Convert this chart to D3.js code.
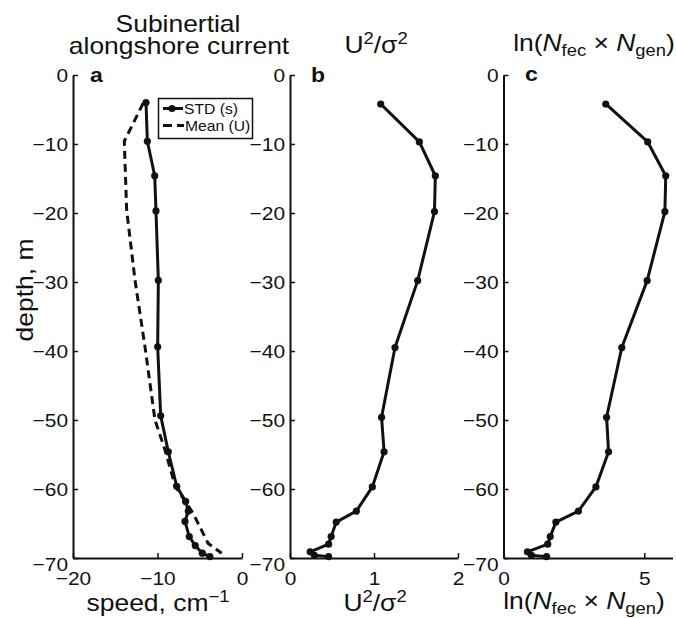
<!DOCTYPE html>
<html><head><meta charset="utf-8">
<script src="https://cdn.jsdelivr.net/npm/d3@7"></script>
<style>
body{margin:0;background:#fff}
svg{display:block}
text{font-family:"Liberation Sans",Arial,Helvetica,sans-serif;fill:#111}
</style>
</head><body>
<svg id="chart" width="676" height="618"></svg>
<script>
// ---- data ----
const depthSTD = [-4.0, -9.6, -14.6, -19.7, -29.75, -39.4, -49.4, -54.6, -59.6, -61.8, -63.2, -64.7, -66.9, -68.2, -69.3, -69.8];
const stdS     = [-11.36, -11.2, -10.33, -10.18, -9.9, -9.98, -9.62, -8.72, -7.73, -6.67, -6.36, -6.75, -6.24, -5.53, -4.7, -3.8];
const depthMean = [-4.1, -9.6, -19.6, -29.75, -39.4, -50.0, -54.0, -59.6, -62.0, -63.5, -67.9, -69.3];
const meanU     = [-11.7, -13.93, -13.65, -12.66, -11.48, -10.3, -9.2, -7.9, -6.6, -5.8, -4.0, -2.4];
const depthBC = [-4.2, -9.7, -14.6, -19.8, -29.8, -39.5, -49.6, -54.6, -59.7, -63.2, -64.8, -66.9, -68.0, -69.1, -69.6, -69.8];
const ratioU2s2 = [1.08, 1.54, 1.73, 1.72, 1.52, 1.25, 1.09, 1.12, 0.98, 0.79, 0.55, 0.49, 0.46, 0.24, 0.29, 0.46];
const lnNfecNgen = [3.63, 5.12, 5.76, 5.73, 5.10, 4.20, 3.66, 3.73, 3.28, 2.66, 1.86, 1.66, 1.57, 0.85, 0.99, 1.53];
const yTickVals = [0, -10, -20, -30, -40, -50, -60, -70];
const xTicksA = [-20, -10, 0];
const xTicksB = [0, 1, 2];
const xTicksC = [0, 5];
const legendLabels = ["STD (s)", "Mean (U)"];
const panelLetters = ["a", "b", "c"];

const svg = d3.select("#chart");
const INK = "#111";
const y = d3.scaleLinear().domain([0, -70]).range([75, 558]);

const xA = d3.scaleLinear().domain([-20, 0]).range([73, 242]);
const xB = d3.scaleLinear().domain([0, 2]).range([290, 458]);
const xC = d3.scaleLinear().domain([0, 6]).range([503.5, 672.5]);

const TICK_FS = 19, TICK_SX = 1.1;
const fmt = d3.format("d");

function drawAxes(x, xticks) {
  const x0 = x.range()[0];
  const gy = svg.append("g").attr("transform", `translate(${x0},0)`)
    .call(d3.axisLeft(y).tickValues(yTickVals).tickFormat(fmt).tickSize(-5).tickSizeOuter(0).tickPadding(5));
  const gx = svg.append("g").attr("transform", `translate(0,${y.range()[1]})`)
    .call(d3.axisBottom(x).tickValues(xticks).tickFormat(fmt).tickSize(-5).tickSizeOuter(0));
  [gy, gx].forEach(g => {
    g.select(".domain").attr("stroke", INK).attr("stroke-width", 2);
    g.selectAll(".tick line").attr("stroke", INK).attr("stroke-width", 1.5);
    g.selectAll("text").style("font-size", TICK_FS + "px").style("font-family", '"Liberation Sans",Arial,sans-serif')
      .attr("fill", INK).attr("transform", `scale(${TICK_SX},1)`);
  });
  gy.selectAll(".tick text").attr("x", -5 / TICK_SX)
    .attr("dy", d => d === -70 ? "0.65em" : "0.35em");
  gx.selectAll(".tick text").attr("y", 27).attr("dy", 0);
}

drawAxes(xA, xTicksA);
drawAxes(xB, xTicksB);
drawAxes(xC, xTicksC);

function series(x, depths, vals, opts) {
  const pts = depths.map((d, i) => [x(vals[i]), y(d)]);
  svg.append("path").attr("d", d3.line()(pts)).attr("fill", "none")
    .attr("stroke", INK).attr("stroke-width", 3).attr("stroke-linejoin", "round")
    .attr("stroke-dasharray", opts.dash || null);
  if (opts.markers) {
    svg.append("g").selectAll("circle").data(pts).join("circle")
      .attr("cx", p => p[0]).attr("cy", p => p[1]).attr("r", 3.6).attr("fill", INK);
  }
}

series(xA, depthMean, meanU, {dash: "8,5"});
series(xA, depthSTD, stdS, {markers: true});
series(xB, depthBC, ratioU2s2, {markers: true});
series(xC, depthBC, lnNfecNgen, {markers: true});

// ---- text helper (text is horizontally stretched like the reference) ----
function label(x, yy, parts, o) {
  o = o || {};
  const t = svg.append("text")
    .attr("transform", `translate(${x},${yy})${o.rotate ? ` rotate(${o.rotate})` : ""} scale(${o.sx || 1.15},1)`)
    .attr("text-anchor", o.anchor || "middle")
    .style("font-size", (o.size || 23) + "px")
    .style("font-weight", o.bold ? "bold" : "normal");
  parts.forEach(p => {
    if (typeof p === "string") p = {t: p};
    const ts = t.append("tspan").text(p.t);
    if (p.dy) ts.attr("dy", p.dy);
    if (p.size) ts.style("font-size", p.size + "px");
    if (p.it) ts.style("font-style", "italic");
  });
  return t;
}

// titles
label(178, 32, ["Subinertial"]);
label(179, 54, ["alongshore current"]);
label(376, 53, ["U", {t: "2", dy: -9, size: 16}, {t: "/σ", dy: 9}, {t: "2", dy: -9, size: 16}]);
label(594, 51, ["ln(", {t: "N", it: true}, {t: "fec", dy: 5, size: 16}, {t: " × ", dy: -5}, {t: "N", it: true}, {t: "gen", dy: 5, size: 16}, {t: ")", dy: -5}]);

// panel letters
label(90, 82, [panelLetters[0]], {anchor: "start", bold: true, size: 20});
label(311, 82, [panelLetters[1]], {anchor: "start", bold: true, size: 20});
label(525, 81, [panelLetters[2]], {anchor: "start", bold: true, size: 20});

// axis titles
label(33, 290, ["depth, m"], {rotate: -90});
label(158, 611, ["speed, cm", {t: "−1", dy: -9, size: 16}]);
label(375, 611, ["U", {t: "2", dy: -9, size: 16}, {t: "/σ", dy: 9}, {t: "2", dy: -9, size: 16}]);
label(584, 609, ["ln(", {t: "N", it: true}, {t: "fec", dy: 5, size: 16}, {t: " × ", dy: -5}, {t: "N", it: true}, {t: "gen", dy: 5, size: 16}, {t: ")", dy: -5}]);

// legend
const lg = svg.append("g");
lg.append("rect").attr("x", 158.5).attr("y", 98.5).attr("width", 94).attr("height", 40)
  .attr("fill", "#fff").attr("stroke", INK).attr("stroke-width", 1.5);
lg.append("line").attr("x1", 163).attr("x2", 183).attr("y1", 108.5).attr("y2", 108.5)
  .attr("stroke", INK).attr("stroke-width", 3);
lg.append("circle").attr("cx", 172).attr("cy", 108.5).attr("r", 3.6).attr("fill", INK);
lg.append("line").attr("x1", 163).attr("x2", 184).attr("y1", 125.5).attr("y2", 125.5)
  .attr("stroke", INK).attr("stroke-width", 3).attr("stroke-dasharray", "9,5");
label(184, 113.5, [legendLabels[0]], {anchor: "start", size: 14, sx: 1.12});
label(185, 130.5, [legendLabels[1]], {anchor: "start", size: 14, sx: 1.12});
</script>
</body></html>
